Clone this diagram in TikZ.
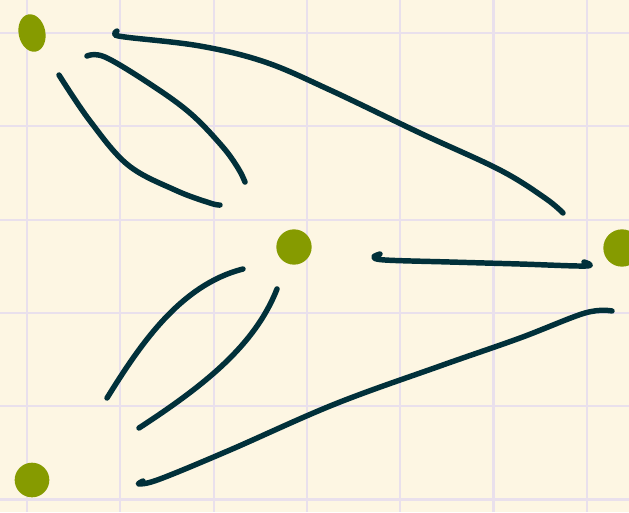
\documentclass[tikz,border=0pt]{standalone}
\definecolor{paper}{HTML}{FDF6E3}
\definecolor{gridc}{HTML}{E9E0EC}
\definecolor{ink}{HTML}{01303A}
\definecolor{dotc}{HTML}{869B00}
\begin{document}
\begin{tikzpicture}[x=0.75pt,y=-0.75pt,
  dotnode/.style={circle,fill=dotc,draw=none,inner sep=0pt},
  stroke/.style={draw=ink,line width=4.1pt,line cap=round,line join=round}]
\fill[paper] (0,0) rectangle (629,512);
\useasboundingbox (0,0) rectangle (629,512);
\foreach \x in {27,120.3,213.6,306.9,400.2,493.5,586.8}
  \draw[gridc,line width=1.6pt] (\x,0) -- (\x,512);
\foreach \y in {33,126.3,219.6,312.9,406.2,499.5}
  \draw[gridc,line width=1.6pt] (0,\y) -- (629,\y);
% dots
\coordinate (a) at (32,33);
\fill[dotc,rotate around={12:(a)}] (a) ellipse (10pt and 14.2pt);
\node[dotnode,minimum size=26.5pt] (b) at (294,247) {};
\node[dotnode,minimum size=28pt] (c) at (622,248) {};
\node[dotnode,minimum size=26pt] (d) at (32,480) {};
% strokes
\draw[stroke] plot[smooth,tension=0.6] coordinates {(117,31) (115,34) (125,37) (200,46) (265,62) (330,90) (420,133) (500,170) (545,198) (563,213)};
\draw[stroke] plot[smooth,tension=0.6] coordinates {(87,56) (105,57) (150,84) (190,113) (222,146) (238,168) (245,182)};
\draw[stroke] plot[smooth,tension=0.6] coordinates {(59,75) (90,121) (128,165) (175,190) (210,203) (220,205)};
\draw[stroke] plot[smooth,tension=0.6] coordinates {(380,254) (374,257) (385,260) (450,262) (520,264) (586,266) (584,262)};
\draw[stroke] (243,269) .. controls (180,285) and (140,345) .. (107,398);
\draw[stroke] (277,289) .. controls (255,345) and (205,385) .. (139,428);
\draw[stroke] plot[smooth,tension=0.6] coordinates {(612,311) (585,313) (520,338) (440,366) (335,404) (230,450) (160,479) (139,484) (143,481)};
\end{tikzpicture}
\end{document}
